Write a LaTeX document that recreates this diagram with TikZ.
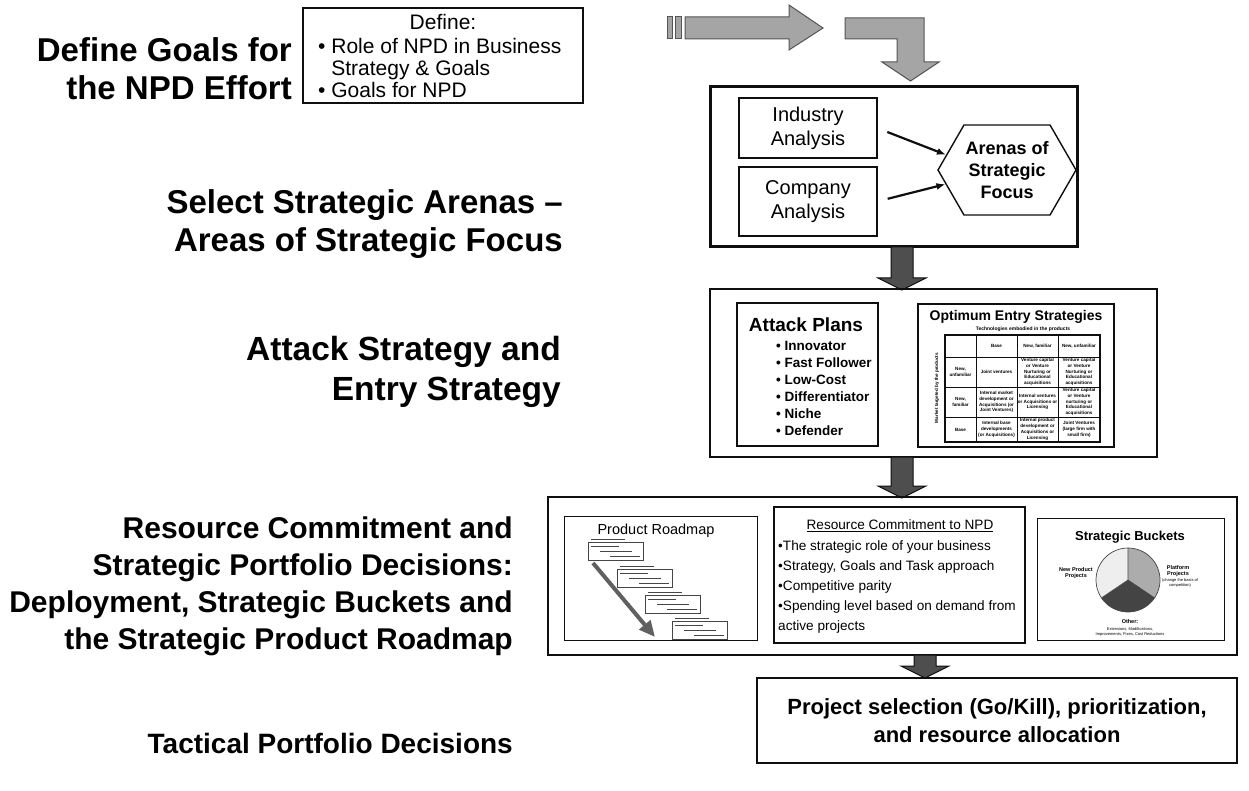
\documentclass[tikz,border=0pt]{standalone}
\usepackage{fontspec}
\setmainfont{Liberation Sans}
\usepackage{tikz}
\usetikzlibrary{positioning, arrows.meta, shapes.symbols}
\definecolor{inkColor}{RGB}{15, 15, 15}
\definecolor{flowFill}{RGB}{165, 165, 165}
\definecolor{flowEdge}{RGB}{85, 85, 85}
\definecolor{stageFill}{RGB}{78, 78, 78}
\definecolor{sketchInk}{RGB}{70, 70, 70}
\definecolor{pieLight}{RGB}{238, 238, 238}
\definecolor{pieMid}{RGB}{172, 172, 172}
\definecolor{pieDark}{RGB}{68, 68, 68}
\tikzset{
    stage_title/.style={
        font=\fontsize{30}{37}\selectfont\bfseries,
        align=right,
        anchor=east,
        inner sep=0
    },
    stage_box/.style={
        draw=inkColor,
        line width=2.5pt,
        anchor=north west,
        inner sep=0,
        outer sep=0
    },
    item_box/.style={
        draw=inkColor,
        line width=1.4pt,
        anchor=north west,
        inner sep=0,
        outer sep=0,
        align=center,
        font=\fontsize{20}{24}\selectfont
    },
    focus_hex/.style={
        shape=signal,
        signal to=east and west,
        signal pointer angle=120,
        draw=inkColor,
        line width=1.4pt,
        minimum width=138,
        minimum height=90,
        inner sep=0,
        align=center,
        font=\fontsize{18}{22}\selectfont\bfseries
    },
    focus_arrow/.style={
        -{Latex[length=9pt, width=7pt]},
        line width=2.2pt,
        draw=inkColor,
        shorten <=11pt
    },
    flow_arrow/.style={
        fill=flowFill,
        draw=flowEdge,
        line width=1pt
    },
    stage_arrow_shape/.style={
        fill=stageFill,
        draw=inkColor,
        line width=1pt
    },
    pics/stage_arrow/.style={
        code={
            \draw[stage_arrow_shape] (-11,0) -- (11,0) -- (11,#1-12) -- (24,#1-12)
                -- (0,#1) -- (-24,#1-12) -- (-11,#1-12) -- cycle;
        }
    },
    define_text/.style={
        font=\fontsize{21}{22}\selectfont,
        inner sep=0
    },
    plans_text/.style={
        font=\fontsize{13.5}{17}\selectfont\bfseries,
        inner sep=0
    },
    cell/.style={
        font=\fontsize{4.6}{5.8}\selectfont\bfseries,
        align=center,
        inner sep=0
    },
    grid_line/.style={
        draw=inkColor,
        line width=0.8pt
    },
    commit_text/.style={
        font=\fontsize{13.6}{20}\selectfont,
        inner sep=0
    },
    sketch_line/.style={
        draw=sketchInk,
        line width=0.6pt
    },
    sketch_box/.style={
        draw=sketchInk,
        line width=0.7pt
    },
    roadmap_arrow/.style={
        line width=4pt,
        draw=gray!75!black,
        -{Triangle[length=16pt, width=14pt]}
    },
    pie_label/.style={
        font=\fontsize{5.5}{6.5}\selectfont\bfseries,
        align=center,
        inner sep=0
    },
    pie_note/.style={
        font=\fontsize{4}{5}\selectfont,
        align=center,
        inner sep=0
    }
}
\begin{document}
\begin{tikzpicture}[x=1pt, y=-1pt]
    \useasboundingbox[fill=white] (0,0) rectangle (1249,791);

    % stage titles on the left
    \node[stage_title, font=\fontsize{33}{38}\selectfont\bfseries] (t_goals) at (292,69) {Define Goals for\\the NPD Effort};
    \node[stage_title, font=\fontsize{33}{38}\selectfont\bfseries] (t_arenas) at (563,224) {Select Strategic Arenas –\\Areas of Strategic Focus};
    \node[stage_title, font=\fontsize{33.5}{40}\selectfont\bfseries] (t_attack) at (561,372) {Attack Strategy and\\Entry Strategy};
    \node[stage_title] (t_resource) at (513,586) {Resource Commitment and\\Strategic Portfolio Decisions:\\Deployment, Strategic Buckets and\\the Strategic Product Roadmap};
    \node[stage_title, font=\fontsize{28}{34}\selectfont\bfseries] (t_tactical) at (513,743) {Tactical Portfolio Decisions};

    % define goals
    \node[stage_box, minimum width=280, minimum height=95] (define) at (303,8) {};
    \node[define_text] (define_head) at (443,22) {Define:};
    \node[define_text, align=left, anchor=west] (define_list) at (318,68) {• Role of NPD in Business\\\phantom{• }Strategy \& Goals\\• Goals for NPD};

    % flow arrows at the top
    \draw[flow_arrow] (667,17) rectangle (672,39);
    \draw[flow_arrow] (675,17) rectangle (681,39);
    \draw[flow_arrow] (685,17) -- (789,17) -- (789,5) -- (823,28) -- (789,50) -- (789,39) -- (685,39) -- cycle;
    \draw[flow_arrow] (845,18) -- (924,18) -- (924,62) -- (939,62) -- (910.5,81) -- (882,62) -- (897,62) -- (897,39) -- (845,39) -- cycle;

    % strategic arenas
    \node[stage_box, line width=3pt, minimum width=367, minimum height=160] (arenas) at (710,87) {};
    \node[item_box, minimum width=138, minimum height=60] (industry) at (739,98) {Industry\\Analysis};
    \node[item_box, minimum width=138, minimum height=69] (company) at (739,167) {Company\\Analysis};
    \node[focus_hex] (focus) at (1007,170) {Arenas of\\Strategic\\Focus};
    \draw[focus_arrow] (industry.east) -- (focus.166);
    \draw[focus_arrow] (company.east) -- (focus.193);

    \coordinate (arrow_col) at (902,0);
    \coordinate (arrow_col_low) at (925,0);
    \pic at (arenas.south -| arrow_col) {stage_arrow=43};

    % attack and entry
    \node[stage_box, minimum width=447, minimum height=168] (attack) at (710,289) {};
    \node[item_box, minimum width=141, minimum height=143] (plans) at (737,303) {};
    \node[plans_text, font=\fontsize{19}{21}\selectfont\bfseries] (plans_head) at (806,325) {Attack Plans};
    \node[plans_text, align=left, anchor=west] (plans_list) at (776,388) {• Innovator\\• Fast Follower\\• Low-Cost\\• Differentiator\\• Niche\\• Defender};

    \node[item_box, minimum width=196, minimum height=143] (entry) at (918,304) {};
    \node[cell, font=\fontsize{14}{16}\selectfont\bfseries] (entry_head) at (1016,317) {Optimum Entry Strategies};
    \node[cell, font=\fontsize{5}{6}\selectfont\bfseries] (entry_tech) at (1023,329) {Technologies embodied in the products};
    \node[cell, font=\fontsize{4.6}{6}\selectfont\bfseries, rotate=90] (entry_market) at (937,388) {Market targeted by the products};
    \foreach \xa in {945,976,1017,1058,1100}
        \draw[grid_line] (\xa,335) -- (\xa,442);
    \foreach \ya in {335,357,387,417,442}
        \draw[grid_line] (945,\ya) -- (1100,\ya);
    \draw[grid_line, line width=1.3pt] (945,335) rectangle (1100,442);
    \node[cell] (c01) at (996.5,346) {Base};
    \node[cell] (c02) at (1037.5,346) {New, familiar};
    \node[cell] (c03) at (1079,346) {New, unfamiliar};
    \node[cell] (c10) at (960.5,372) {New,\\unfamiliar};
    \node[cell] (c11) at (996.5,372) {Joint ventures};
    \node[cell] (c12) at (1037.5,372) {Venture capital\\or Venture\\Nurturing or\\Educational\\acquisitions};
    \node[cell] (c13) at (1079,372) {Venture capital\\or Venture\\Nurturing or\\Educational\\acquisitions};
    \node[cell] (c20) at (960.5,402) {New,\\familiar};
    \node[cell] (c21) at (996.5,402) {Internal market\\development or\\Acquisitions (or\\Joint Ventures)};
    \node[cell] (c22) at (1037.5,402) {Internal ventures\\or Acquisitions or\\Licensing};
    \node[cell] (c23) at (1079,402) {Venture capital\\or Venture\\nurturing or\\Educational\\acquisitions};
    \node[cell] (c30) at (960.5,429.5) {Base};
    \node[cell] (c31) at (996.5,429.5) {Internal base\\developments\\(or Acquisitions)};
    \node[cell] (c32) at (1037.5,429.5) {Internal product\\development or\\Acquisitions or\\Licensing};
    \node[cell] (c33) at (1079,429.5) {Joint Ventures\\(large firm with\\small firm)};

    \pic at (attack.south -| arrow_col) {stage_arrow=41};

    % resource commitment
    \node[stage_box, minimum width=689, minimum height=158] (resource) at (548,497) {};

    \node[item_box, line width=1pt, minimum width=193, minimum height=124] (roadmap) at (564,516) {};
    \node[commit_text, font=\fontsize{14.5}{16}\selectfont] (roadmap_head) at (656,531) {Product Roadmap};
    \foreach \gx/\gy in {588/542, 617/569, 645/595, 672/621} {
        \draw[sketch_line] (\gx+3,\gy-3) -- ++(34,0);
        \draw[sketch_box] (\gx,\gy) rectangle ++(55,18);
        \draw[sketch_line] (\gx+3,\gy+4) -- ++(28,0);
        \draw[sketch_line] (\gx+12,\gy+9) -- ++(32,0);
        \draw[sketch_line] (\gx+22,\gy+14) -- ++(30,0);
    }
    \draw[roadmap_arrow] (593,563) -- (655,637);

    \node[item_box, minimum width=251, minimum height=136] (commit) at (774,507) {};
    \node[commit_text] (commit_head) at (900,526) {\underline{Resource Commitment to NPD}};
    \node[commit_text, align=left, anchor=west] (commit_list) at (778,587) {•The strategic role of your business\\•Strategy, Goals and Task approach\\•Competitive parity\\•Spending level based on demand from\\active projects};

    \node[item_box, line width=1pt, minimum width=187, minimum height=122] (buckets) at (1037,518) {};
    \node[pie_label, font=\fontsize{13}{15}\selectfont\bfseries] (buckets_head) at (1130,537) {Strategic Buckets};
    \node[circle, minimum size=64, inner sep=0] (pie) at (1128,580) {};
    \begin{scope}[shift={(pie.center)}, x=1pt, y=1pt]
        \fill[pieMid] (0,0) -- (90:32) arc[start angle=90, end angle=-34, radius=32] -- cycle;
        \fill[pieDark] (0,0) -- (-34:32) arc[start angle=-34, end angle=-146, radius=32] -- cycle;
        \fill[pieLight] (0,0) -- (-146:32) arc[start angle=-146, end angle=-270, radius=32] -- cycle;
        \draw[sketch_box] (0,0) circle[radius=32];
        \draw[sketch_box] (0,0) -- (90:32) (0,0) -- (-34:32) (0,0) -- (-146:32);
    \end{scope}
    \node[pie_label, anchor=east] (pie_new) at (1093,573) {New Product\\Projects};
    \node[pie_label] (pie_platform) at (1178,571) {Platform\\Projects};
    \node[pie_note] (pie_platform_note) at (1180,583) {(change the basis of\\competition)};
    \node[pie_label] (pie_other) at (1130,622) {Other:};
    \node[pie_note] (pie_other_note) at (1130,632) {Extensions, Modifications,\\Improvements, Fixes, Cost Reductions};

    \pic at (resource.south -| arrow_col_low) {stage_arrow=23};

    % tactical decisions
    \node[stage_box, line width=2pt, minimum width=480, minimum height=85, align=center,
        font=\fontsize{22}{28}\selectfont\bfseries] (tactical) at (757,678)
        {Project selection (Go/Kill), prioritization,\\and resource allocation};
\end{tikzpicture}
\end{document}
